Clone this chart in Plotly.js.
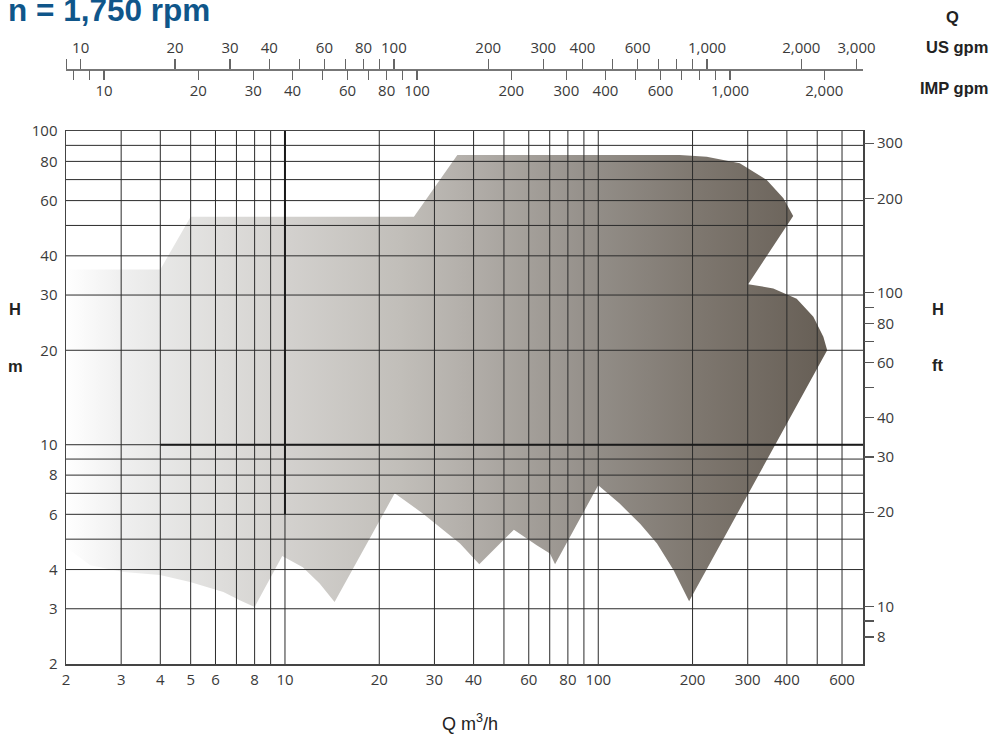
<!DOCTYPE html>
<html>
<head>
<meta charset="utf-8">
<script src="https://cdn.plot.ly/plotly-3.0.1.min.js"></script>
<style>html,body{margin:0;padding:0;background:#fff}#chart{width:994px;height:737px}</style>
</head>
<body>
<div id="chart"></div>
<script>
// Operating range outline: flow Q (m3/h) and head H (m)
const rangeQ = [2, 4.0, 5.0, 25.8, 35.5, 182, 222, 283, 345, 390, 419, 301, 362, 430, 486, 523, 538, 195, 174, 154, 136, 117, 100, 72.8, 70.1, 63.6, 53.8, 41.7, 36.2, 31.2, 27.6, 22.4, 14.4, 12.9, 11.4, 9.8, 8.0, 7.2, 6.36, 4.98, 3.99, 3.05, 2.39, 2];
const rangeH = [36.2, 36.2, 53.3, 53.3, 83.9, 83.9, 82.8, 78.9, 69.8, 61.0, 53.6, 32.5, 31.5, 29.2, 25.6, 22.1, 20.0, 3.17, 3.98, 4.84, 5.60, 6.49, 7.43, 4.16, 4.50, 4.78, 5.36, 4.16, 4.84, 5.47, 6.03, 7.0, 3.15, 3.61, 4.07, 4.42, 3.04, 3.19, 3.39, 3.65, 3.84, 3.93, 4.13, 4.71];

// Main axes
const qTicks = [2, 3, 4, 5, 6, 8, 10, 20, 30, 40, 60, 80, 100, 200, 300, 400, 600];
const hTicks = [2, 3, 4, 6, 8, 10, 20, 30, 40, 60, 80, 100];
const gridQ = [3, 4, 5, 6, 7, 8, 9, 10, 20, 30, 40, 50, 60, 70, 80, 90, 100, 200, 300, 400, 500, 600];
const gridH = [3, 4, 5, 6, 7, 8, 9, 10, 20, 30, 40, 50, 60, 70, 80, 90];
const qRange = [2, 700];
const hRange = [2, 100];

// US gpm scale
const usVals = [9, 10, 20, 30, 40, 50, 60, 70, 80, 90, 100, 200, 300, 400, 500, 600, 700, 800, 900, 1000, 2000, 3000];
const usText = ['', '10', '20', '30', '40', '', '60', '', '80', '', '100', '200', '300', '400', '', '600', '', '', '', '1,000', '2,000', '3,000'];
const usRange = [8.976, 3147];

// IMP gpm scale
const impVals = [8, 9, 10, 20, 30, 40, 50, 60, 70, 80, 90, 100, 200, 300, 400, 500, 600, 700, 800, 900, 1000, 2000];
const impText = ['', '', '10', '20', '30', '40', '', '60', '', '80', '', '100', '200', '300', '400', '', '600', '', '', '', '1,000', '2,000'];
const impRange = [7.56, 2660];

// Head in feet
const ftVals = [8, 9, 10, 20, 30, 40, 50, 60, 70, 80, 90, 100, 200, 300];
const ftText = ['8', '', '10', '20', '30', '40', '', '60', '', '80', '', '100', '200', '300'];
const ftRange = [6.5617, 328.084];

const L = Math.log10;
const tickFont = {family: 'Open Sans, sans-serif', size: 15, color: '#3a3a3a'};
const labFont = {family: 'Liberation Sans, Arial, sans-serif', size: 16.5, color: '#222'};

const traces = [
  {
    type: 'scatter', x: rangeQ, y: rangeH, mode: 'lines', fill: 'toself',
    line: {width: 0, color: 'rgba(0,0,0,0)'},
    fillcolor: '#aaa',
    fillgradient: {type: 'horizontal', colorscale: [
      [0, '#ffffff'], [0.07, '#f0f0f0'], [0.124, '#e8e8e7'], [0.29, '#d3d1ce'],
      [0.44, '#c1beb9'], [0.52, '#b4b0ab'], [0.70, '#928d87'], [0.83, '#7e776f'], [1, '#665e55']]},
    hoverinfo: 'skip', showlegend: false
  },
  {type: 'scatter', x: usVals, y: usVals.map(() => null), xaxis: 'x2', yaxis: 'y', mode: 'markers', marker: {opacity: 0}, hoverinfo: 'skip', showlegend: false},
  {type: 'scatter', x: impVals, y: impVals.map(() => null), xaxis: 'x3', yaxis: 'y', mode: 'markers', marker: {opacity: 0}, hoverinfo: 'skip', showlegend: false},
  {type: 'scatter', x: ftVals.map(() => null), y: ftVals, xaxis: 'x', yaxis: 'y2', mode: 'markers', marker: {opacity: 0}, hoverinfo: 'skip', showlegend: false}
];

const shapes = [];
gridQ.forEach(v => shapes.push({type: 'line', layer: 'above', xref: 'x', yref: 'y domain', x0: v, x1: v, y0: 0, y1: 1, line: {color: '#2b2b2b', width: 1}}));
gridH.forEach(v => shapes.push({type: 'line', layer: 'above', xref: 'x domain', yref: 'y', x0: 0, x1: 1, y0: v, y1: v, line: {color: '#2b2b2b', width: 1}}));
// emphasised lines at 10
shapes.push({type: 'line', layer: 'above', xref: 'x', yref: 'y', x0: 10, x1: 10, y0: 6, y1: 100, line: {color: '#1a1a1a', width: 2}});
shapes.push({type: 'line', layer: 'above', xref: 'x', yref: 'y', x0: 4, x1: 700, y0: 10, y1: 10, line: {color: '#1a1a1a', width: 2}});

const topPos = (664 - 69) / 624;

const layout = {
  width: 994, height: 737,
  margin: {l: 66, r: 131, t: 40, b: 73, pad: 0},
  paper_bgcolor: '#fff', plot_bgcolor: '#fff',
  showlegend: false,
  title: {
    text: '<b>n = 1,750 rpm</b>',
    font: {family: 'Liberation Sans, Arial, sans-serif', size: 31.5, color: '#0f568a'},
    xref: 'container', yref: 'container', x: 8 / 994, xanchor: 'left', y: 1 - 10 / 737, yanchor: 'middle'
  },
  xaxis: {
    type: 'log', range: [L(qRange[0]), L(qRange[1])], domain: [0, 1],
    tickmode: 'array', tickvals: qTicks, ticktext: qTicks.map(String),
    ticks: '', showgrid: false, zeroline: false,
    showline: true, mirror: true, linecolor: '#444', linewidth: 1.5,
    tickfont: tickFont, ticklabelstandoff: 1, anchor: 'y'
  },
  yaxis: {
    type: 'log', range: [L(hRange[0]), L(hRange[1])], domain: [0, (664 - 131) / 624],
    tickmode: 'array', tickvals: hTicks, ticktext: hTicks.map(String),
    ticks: '', showgrid: false, zeroline: false,
    showline: true, mirror: true, linecolor: '#444', linewidth: 1.5,
    tickfont: tickFont, ticklabelstandoff: 4, anchor: 'x'
  },
  xaxis2: {
    type: 'log', overlaying: 'x', anchor: 'free', position: topPos, side: 'top',
    range: [L(usRange[0]), L(usRange[1])],
    tickmode: 'array', tickvals: usVals, ticktext: usText,
    ticks: 'outside', ticklen: 10, tickwidth: 1.3, tickcolor: '#666',
    showline: true, linecolor: '#777', linewidth: 1.5,
    showgrid: false, zeroline: false, tickfont: tickFont
  },
  xaxis3: {
    type: 'log', overlaying: 'x', anchor: 'free', position: topPos, side: 'bottom',
    range: [L(impRange[0]), L(impRange[1])],
    tickmode: 'array', tickvals: impVals, ticktext: impText,
    ticks: 'outside', ticklen: 10, tickwidth: 1.3, tickcolor: '#666',
    showline: false, ticklabelstandoff: -2,
    showgrid: false, zeroline: false, tickfont: tickFont
  },
  yaxis2: {
    type: 'log', overlaying: 'y', side: 'right', anchor: 'x',
    range: [L(ftRange[0]), L(ftRange[1])],
    tickmode: 'array', tickvals: ftVals, ticktext: ftText,
    ticks: 'outside', ticklen: 10, tickwidth: 1.2, tickcolor: '#555',
    showline: false, showgrid: false, zeroline: false, tickfont: tickFont
  },
  shapes: shapes,
  annotations: [
    {text: '<b>Q</b>', xref: 'paper', yref: 'paper', x: (952 - 66) / 797, y: (664 - 17) / 624, xanchor: 'center', yanchor: 'middle', showarrow: false, font: labFont},
    {text: '<b>US gpm</b>', xref: 'paper', yref: 'paper', x: (990 - 66) / 797, y: (664 - 47) / 624, xanchor: 'right', yanchor: 'middle', showarrow: false, font: labFont},
    {text: '<b>IMP gpm</b>', xref: 'paper', yref: 'paper', x: (990 - 66) / 797, y: (664 - 88) / 624, xanchor: 'right', yanchor: 'middle', showarrow: false, font: labFont},
    {text: '<b>H</b>', xref: 'paper', yref: 'paper', x: (15 - 66) / 797, y: (664 - 309) / 624, xanchor: 'center', yanchor: 'middle', showarrow: false, font: labFont},
    {text: '<b>m</b>', xref: 'paper', yref: 'paper', x: (15 - 66) / 797, y: (664 - 366) / 624, xanchor: 'center', yanchor: 'middle', showarrow: false, font: labFont},
    {text: '<b>H</b>', xref: 'paper', yref: 'paper', x: (938 - 66) / 797, y: (664 - 309) / 624, xanchor: 'center', yanchor: 'middle', showarrow: false, font: labFont},
    {text: '<b>ft</b>', xref: 'paper', yref: 'paper', x: (938 - 66) / 797, y: (664 - 365) / 624, xanchor: 'center', yanchor: 'middle', showarrow: false, font: labFont},
    {text: 'Q m<sup>3</sup>/h', xref: 'paper', yref: 'paper', x: (470 - 66) / 797, y: (664 - 722) / 624, xanchor: 'center', yanchor: 'middle', showarrow: false, font: {family: 'Liberation Sans, Arial, sans-serif', size: 18, color: '#222'}}
  ]
};

Plotly.newPlot('chart', traces, layout, {staticPlot: true, displayModeBar: false});
</script>
</body>
</html>
